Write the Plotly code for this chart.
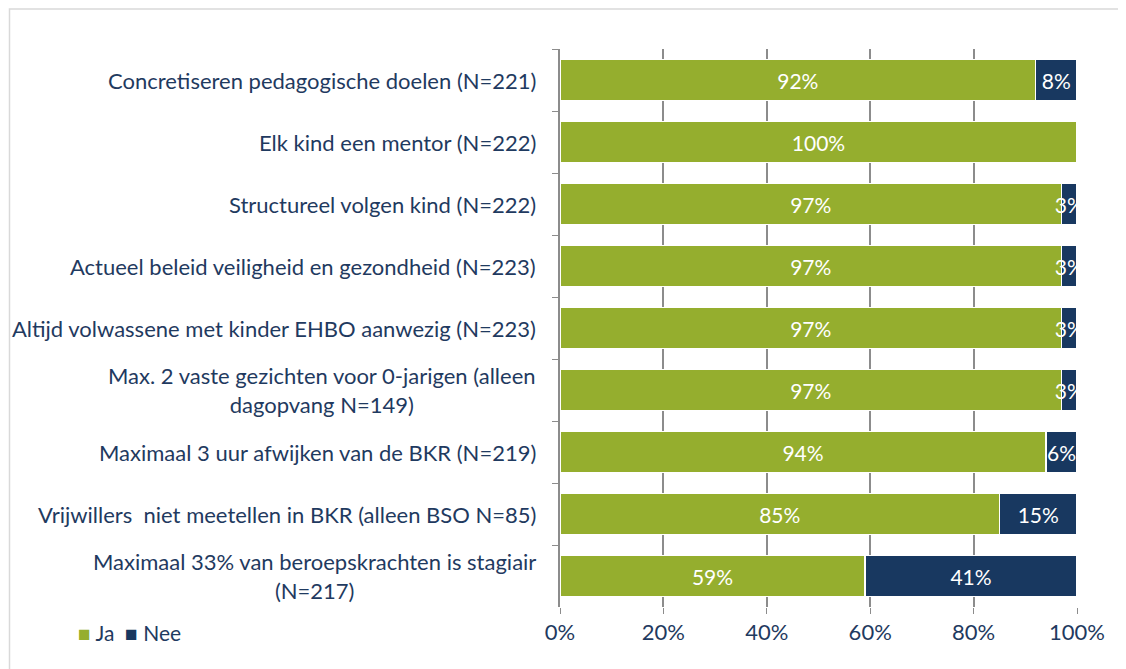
import plotly.graph_objects as go

categories = [
    "Concretiseren pedagogische doelen (N=221)",
    "Elk kind een mentor (N=222)",
    "Structureel volgen kind (N=222)",
    "Actueel beleid veiligheid en gezondheid (N=223)",
    "Altijd volwassene met kinder EHBO aanwezig (N=223)",
    "Max. 2 vaste gezichten voor 0-jarigen (alleen<br>dagopvang N=149)",
    "Maximaal 3 uur afwijken van de BKR (N=219)",
    "Vrijwillers  niet meetellen in BKR (alleen BSO N=85)",
    "Maximaal 33% van beroepskrachten is stagiair<br>(N=217)",
]
series_names = ["Ja", "Nee"]
ja = [92, 100, 97, 97, 97, 97, 94, 85, 59]
nee = [8, 0, 3, 3, 3, 3, 6, 15, 41]
x_ticks = [0, 20, 40, 60, 80, 100]
x_ticklabels = ["0%", "20%", "40%", "60%", "80%", "100%"]

GREEN = "#95ae2e"
NAVY = "#183860"
TEXT = "#1f3a60"
FONT = "Lato"
OFF = 8  # page offset
L, R, T, B = 560, 1077, 49, 607
W, H = 1126, 669
PW, PH = R - L, B - T

fig = go.Figure()
for name, vals, col in zip(series_names, [ja, nee], [GREEN, NAVY]):
    fig.add_trace(go.Bar(
        y=categories, x=vals, orientation="h", name=name,
        marker=dict(color=col, line=dict(color="white", width=1.5)),
        text=[f"{v}%" if v else "" for v in vals], textposition="inside",
        insidetextanchor="middle", textangle=0,
        textfont=dict(color="white", size=21, family=FONT),
        showlegend=False,
    ))

for c in categories:
    fig.add_annotation(
        x=0, xref="paper", y=c, yref="y", text=c, showarrow=False,
        xanchor="right", xshift=-22, align="center",
        font=dict(size=22, color=TEXT, family=FONT),
    )

# legend drawn as text
legend_text = "&nbsp;&nbsp;".join(
    f"<span style='color:{col}'>■</span> {name}"
    for name, col in zip(series_names, [GREEN, NAVY])
)
fig.add_annotation(
    x=(76 - L) / PW, xref="paper", y=(B - 632) / PH, yref="paper",
    text=legend_text, showarrow=False, xanchor="left", yanchor="middle",
    font=dict(size=21, color=TEXT, family=FONT),
)

fig.add_shape(type="rect", xref="paper", yref="paper",
              x0=(9.5 - L) / PW, x1=(1140 - L) / PW,
              y0=(B - 690) / PH, y1=(B - 9) / PH,
              line=dict(color="#d9d9d9", width=1.5), layer="below")

fig.update_layout(
    width=W, height=H,
    margin=dict(l=L - OFF, r=W - R + OFF, t=T - OFF, b=H - B + OFF),
    barmode="stack", bargap=0.34,
    plot_bgcolor="white", paper_bgcolor="white",
    uniformtext=dict(mode="show", minsize=21),
    font=dict(family=FONT, color=TEXT, size=21),
    showlegend=False,
)
fig.update_xaxes(
    range=[0, 100], tickvals=x_ticks, ticktext=x_ticklabels,
    showgrid=True, gridcolor="#8c8c8c", gridwidth=1.5,
    ticks="outside", ticklen=6, tickcolor="#8c8c8c",
    zeroline=False, showline=False,
    tickfont=dict(size=22, color=TEXT, family=FONT),
)
fig.update_yaxes(
    autorange="reversed", showticklabels=False,
    showline=True, linecolor="#8c8c8c", linewidth=1.5,
    ticks="outside", ticklen=6, tickcolor="#8c8c8c", tickson="boundaries",
    showgrid=False,
)

fig.write_html("out.html")
